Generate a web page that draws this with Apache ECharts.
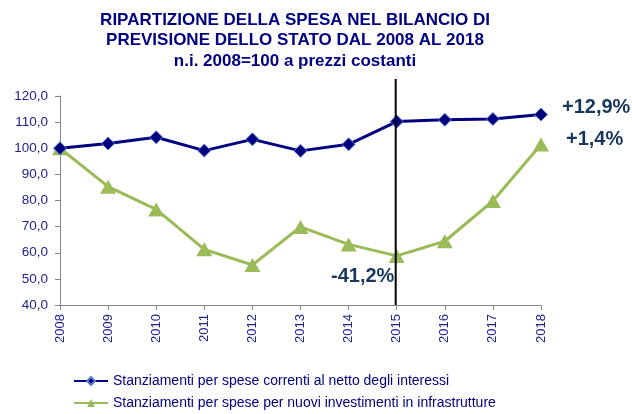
<!DOCTYPE html>
<html>
<head>
<meta charset="utf-8">
<script src="https://cdn.jsdelivr.net/npm/echarts@6/dist/echarts.min.js"></script>
<style>
    html, body { margin: 0; padding: 0; background: #fff; }
    #myChart { width: 632px; height: 414px; }
</style>
</head>
<body>
<div id="myChart"></div>
<script>
    // anni
    var years = ['2008', '2009', '2010', '2011', '2012', '2013', '2014', '2015', '2016', '2017', '2018']
    // spese correnti al netto degli interessi
    var correnti = [100.0, 101.8, 104.2, 99.1, 103.4, 99.0, 101.5, 110.2, 110.9, 111.2, 112.9]
    // nuovi investimenti in infrastrutture
    var investimenti = [100.0, 85.3, 76.6, 61.3, 55.3, 69.9, 63.2, 58.8, 64.4, 79.8, 101.4]
    var seriesNames = [
        'Stanziamenti per spese correnti al netto degli interessi',
        'Stanziamenti per spese per nuovi investimenti in infrastrutture'
    ]
    var navy = '#000080'
    var labelColor = '#22228a'
    var noteColor = '#17375E'

    var MyChart = echarts.init(document.getElementById('myChart'))

    var option = {
        animation: false,
        title: {
            text: 'RIPARTIZIONE DELLA SPESA NEL BILANCIO DI\nPREVISIONE DELLO STATO DAL 2008 AL 2018\nn.i. 2008=100 a prezzi costanti',
            left: 295,
            top: 10,
            padding: 0,
            textAlign: 'center',
            textStyle: {
                fontFamily: 'Liberation Sans',
                fontSize: 17,
                fontWeight: 'bold',
                color: navy,
                lineHeight: 20.5
            }
        },
        legend: {
            orient: 'vertical',
            left: 73,
            top: 374,
            padding: 0,
            itemWidth: 34,
            itemHeight: 10,
            itemGap: 8,
            textStyle: {
                fontFamily: 'Liberation Sans',
                fontSize: 14,
                color: navy
            },
            data: seriesNames
        },
        grid: {
            left: 60,
            right: 91,
            top: 96,
            bottom: 109
        },
        xAxis: {
            type: 'category',
            boundaryGap: false,
            data: years,
            axisLine: { lineStyle: { color: '#888', width: 1 } },
            axisTick: { show: true, alignWithLabel: true, length: 5, lineStyle: { color: '#888' } },
            axisLabel: {
                rotate: 90,
                margin: 9,
                fontFamily: 'Liberation Sans',
                fontSize: 13,
                color: labelColor
            }
        },
        yAxis: {
            type: 'value',
            min: 40,
            max: 120,
            interval: 10,
            splitLine: { show: false },
            axisLine: { show: true, lineStyle: { color: '#888', width: 1 } },
            axisTick: { show: true, length: 5, lineStyle: { color: '#888' } },
            axisLabel: {
                margin: 12,
                fontFamily: 'Liberation Sans',
                fontSize: 13.5,
                color: labelColor,
                formatter: function (v) { return v.toFixed(1).replace('.', ',') }
            }
        },
        series: [
            {
                name: seriesNames[0],
                type: 'line',
                data: correnti,
                symbol: 'diamond',
                symbolSize: 13,
                lineStyle: { color: navy, width: 3 },
                itemStyle: { color: navy, borderColor: '#5b7fc8', borderWidth: 1 },
                z: 3
            },
            {
                name: seriesNames[1],
                type: 'line',
                data: investimenti,
                symbol: 'triangle',
                symbolSize: [16, 14],
                lineStyle: { color: '#9BBB59', width: 3 },
                itemStyle: { color: '#9BBB59' },
                z: 2
            }
        ]
    }
    MyChart.setOption(option)

    // linea verticale sul 2015 e note percentuali
    var grid = MyChart.getModel().getComponent('grid').coordinateSystem.getRect()
    var x2015 = MyChart.convertToPixel({ xAxisIndex: 0 }, '2015')
    var noteFont = 'bold 20px "Liberation Sans"'
    MyChart.setOption({
        graphic: [
            {
                type: 'line',
                shape: { x1: x2015 - 1, y1: 79, x2: x2015 - 1, y2: grid.y + grid.height },
                style: { stroke: '#000', lineWidth: 2 },
                z: 10
            },
            {
                type: 'text', left: 562, top: 97,
                style: { text: '+12,9%', font: noteFont, fill: noteColor }
            },
            {
                type: 'text', left: 566, top: 129,
                style: { text: '+1,4%', font: noteFont, fill: noteColor }
            },
            {
                type: 'text', left: 331, top: 266,
                style: { text: '-41,2%', font: noteFont, fill: noteColor }
            }
        ]
    })
</script>
</body>
</html>
